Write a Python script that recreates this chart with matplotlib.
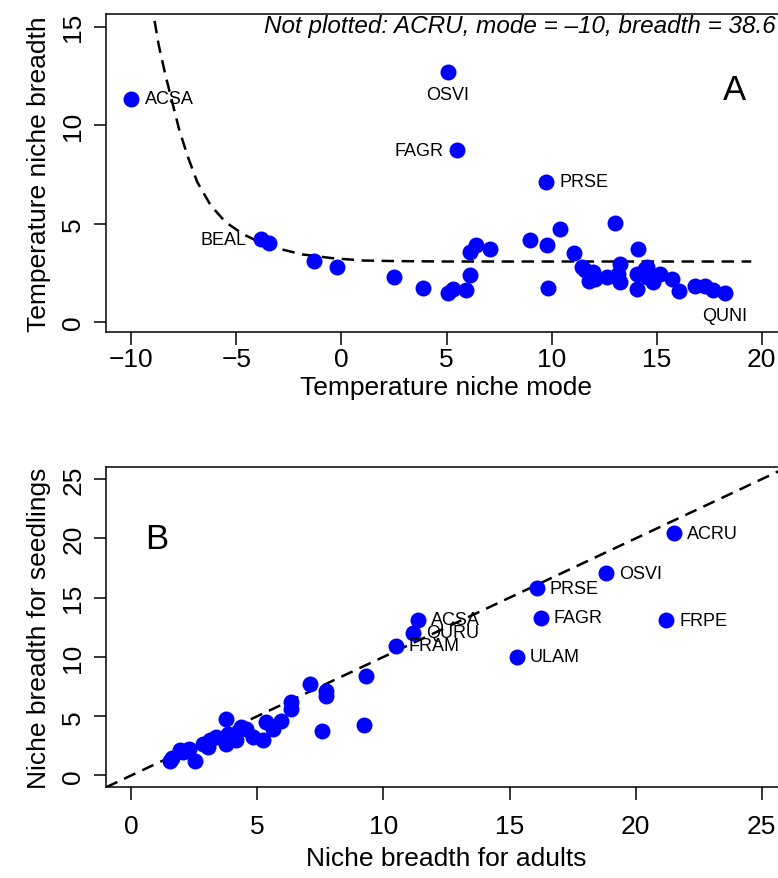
import matplotlib
matplotlib.use("Agg")
import matplotlib.pyplot as plt

plt.rcParams['font.family'] = ['Liberation Sans', 'DejaVu Sans']

# panel A: temperature niche mode vs breadth
modeA = [-10.0, -3.84, -3.45, -1.30, -0.19, 2.49, 3.89, 5.08, 5.31, 5.95, 6.11, 6.11,
         6.38, 7.06, 8.97, 9.79, 9.84, 9.73, 10.4, 5.52, 5.05, 11.08, 13.01, 11.47,
         11.59, 11.98, 11.79, 12.06, 12.62, 13.25, 13.17, 13.25, 14.12, 14.05, 14.05,
         14.44, 14.52, 14.52, 14.84, 15.16, 15.71, 16.08, 16.82, 17.3, 17.7, 18.25]
breadthA = [11.35, 4.2, 4.0, 3.13, 2.80, 2.29, 1.73, 1.49, 1.69, 1.61, 2.37, 3.56,
            3.9, 3.73, 4.15, 3.93, 1.73, 7.12, 4.74, 8.73, 12.71, 3.51, 5.05, 2.8,
            2.65, 2.54, 2.07, 2.2, 2.29, 2.96, 2.46, 2.03, 3.69, 2.46, 1.66,
            2.71, 2.80, 2.29, 2.03, 2.46, 2.2, 1.56, 1.86, 1.86, 1.61, 1.49]
labelsA = {'ACSA': (0, 'right'), 'BEAL': (1, 'left'), 'OSVI': (20, 'below'),
           'FAGR': (19, 'left'), 'PRSE': (17, 'right'), 'QUNI': (45, 'below')}

# fitted curve
curve_x = [-9.05, -8.69, -8.37, -8.05, -7.73, -7.33, -6.86, -6.22, -5.51, -4.71,
           -3.92, -2.97, -1.86, -0.43, 1.03, 2.62, 5.0, 10.0, 15.0, 19.5]
curve_y = [16.3, 14.06, 12.54, 11.18, 9.83, 8.47, 7.12, 5.93, 5.08, 4.49,
           4.07, 3.73, 3.44, 3.25, 3.13, 3.10, 3.08, 3.08, 3.08, 3.08]

# panel B: adults vs seedlings
adultB = [1.52, 1.6, 1.92, 2.05, 2.31, 2.51, 2.84, 3.04, 3.11, 3.37, 3.77, 3.77, 3.83,
          4.17, 4.37, 4.56, 4.83, 5.22, 5.36, 5.62, 5.95, 6.35, 6.35, 7.08, 7.74, 7.74,
          7.56, 9.29, 9.23, 10.49, 11.17, 11.37, 15.28, 16.07, 16.23, 18.81, 21.2, 21.52]
seedB = [1.26, 1.45, 2.11, 1.97, 2.25, 1.26, 2.67, 2.39, 2.95, 3.24, 4.78, 2.67, 3.51,
         2.95, 4.08, 3.93, 3.24, 2.95, 4.50, 3.93, 4.63, 6.18, 5.62, 7.73, 7.16, 6.69,
         3.79, 8.37, 4.27, 10.95, 12.02, 13.12, 10.03, 15.79, 13.29, 17.05, 13.09, 20.42]
labelsB = {'FRAM': 29, 'QURU': 30, 'ACSA': 31, 'ULAM': 32, 'PRSE': 33,
           'FAGR': 34, 'OSVI': 35, 'FRPE': 36, 'ACRU': 37}

offsets = {'right': ((10, 0), 'left', 'center'), 'left': ((-10, 0), 'right', 'center'),
           'below': ((0, -10), 'center', 'top')}


def style_axes(ax):
    for s in ax.spines.values():
        s.set_linewidth(1.1)
    ax.tick_params(direction='out', length=9, width=1.1, labelsize=19, pad=2)
    ax.tick_params(axis='y', pad=6)
    plt.setp(ax.get_yticklabels(), rotation=90, va='center')


fig = plt.figure(figsize=(7.78, 8.79), dpi=100)

axA = fig.add_axes([106/778, 1-333/879, (787-106)/778, (333-15)/879])
axA.plot(curve_x, curve_y, color='black', lw=1.8, ls=(0, (5, 3)))
axA.plot(modeA, breadthA, 'o', color='blue', ms=11.5, mec='none')
for name, (i, pos) in labelsA.items():
    off, ha, va = offsets[pos]
    axA.annotate(name, (modeA[i], breadthA[i]), xytext=off, textcoords='offset points',
                 ha=ha, va=va, fontsize=13)
axA.set_xlim(-11.2, 21.2)
axA.set_ylim(-0.5, 15.65)
axA.set_xticks([-10, -5, 0, 5, 10, 15, 20])
axA.set_yticks([0, 5, 10, 15])
style_axes(axA)
axA.set_xlabel('Temperature niche mode', fontsize=19, labelpad=3)
axA.set_ylabel('Temperature niche breadth', fontsize=19, labelpad=7)
axA.text(20.68, 15.06, 'Not plotted: ACRU, mode = \u201310, breadth = 38.6',
         ha='right', va='center', fontsize=17.5, style='italic')
axA.text(18.7, 11.8, 'A', ha='center', va='center', fontsize=25)

axB = fig.add_axes([106/778, 1-788.3/879, (787-106)/778, 320/879])
axB.axline((0, 0), slope=1, color='black', lw=1.8, ls=(0, (5, 3)))
axB.plot(adultB, seedB, 'o', color='blue', ms=11.5, mec='none')
for name, i in labelsB.items():
    axB.annotate(name, (adultB[i], seedB[i]), xytext=(9.5, 0), textcoords='offset points',
                 ha='left', va='center', fontsize=13)
axB.set_xlim(-1, 26)
axB.set_ylim(-1, 26)
axB.set_xticks([0, 5, 10, 15, 20, 25])
axB.set_yticks([0, 5, 10, 15, 20, 25])
style_axes(axB)
axB.tick_params(axis='x', pad=10)
axB.set_xlabel('Niche breadth for adults', fontsize=19, labelpad=6)
axB.set_ylabel('Niche breadth for seedlings', fontsize=19, labelpad=7)
axB.text(1.0, 20.0, 'B', ha='center', va='center', fontsize=25)

fig.savefig('out.png', dpi=100)
